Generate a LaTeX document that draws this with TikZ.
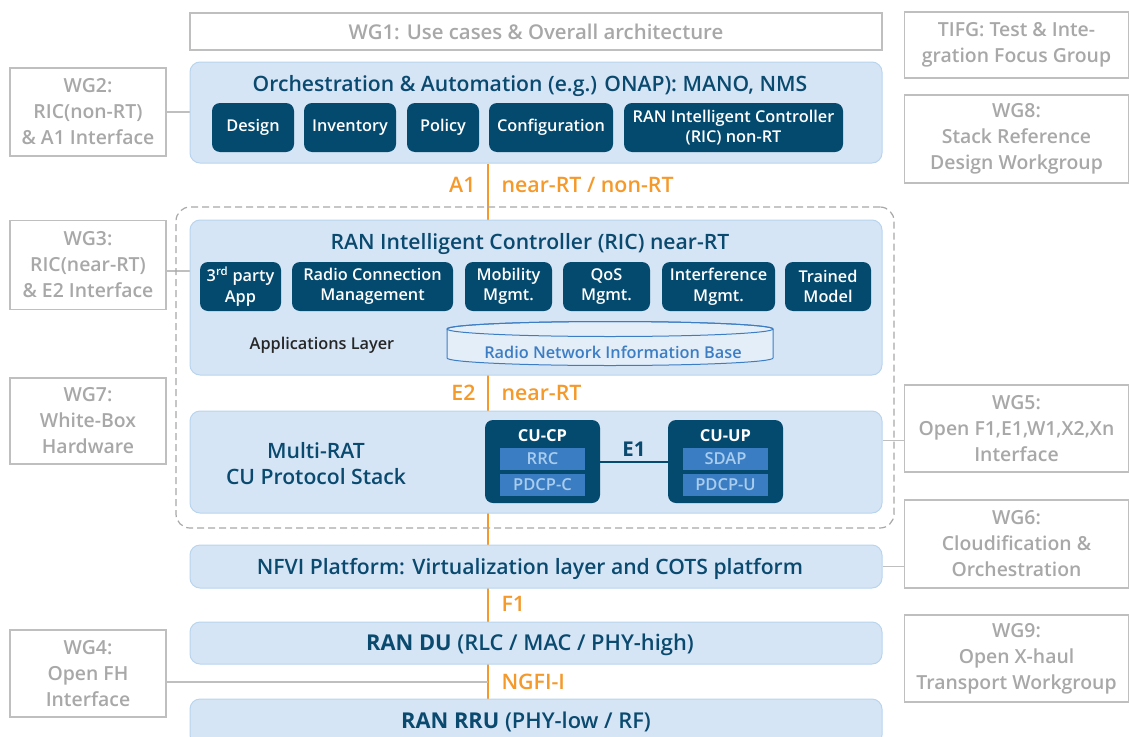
\documentclass[tikz,border=0pt]{standalone}
\usepackage{fontspec}
\IfFontExistsTF{Open Sans Semibold}{%
    \setmainfont{Open Sans Semibold}[BoldFont={Open Sans Bold}]\def\fsc{0.97}}{%
  \IfFontExistsTF{OpenSans-Semibold.otf}{%
    \setmainfont{OpenSans-Semibold.otf}[BoldFont={OpenSans-Bold.otf}]\def\fsc{0.97}}{%
    \IfFontExistsTF{OpenSans-SemiBold.ttf}{%
      \setmainfont{OpenSans-SemiBold.ttf}[BoldFont={OpenSans-Bold.ttf}]\def\fsc{0.97}}{%
      \setmainfont{Open Sans}\def\fsc{1}}}}
\usetikzlibrary{positioning,backgrounds}

\newcommand\fs[2]{\fontsize{\fsc\dimexpr #1pt\relax}{#2pt}\selectfont}

\definecolor{titlecol}{HTML}{0B4A6F}
\definecolor{darkbox}{HTML}{034A6E}
\definecolor{lightfill}{HTML}{D5E5F5}
\definecolor{lightline}{HTML}{B9D5EE}
\definecolor{wggray}{HTML}{A8A8A8}
\definecolor{wgline}{HTML}{BFBFBF}
\definecolor{ifcol}{HTML}{F5992B}
\definecolor{barfill}{HTML}{3B7DC2}
\definecolor{bartext}{HTML}{A9CDEE}
\definecolor{cylcol}{HTML}{3C7DC4}
\definecolor{cylfill}{HTML}{E3EEF9}

\tikzset{
    layer/.style={draw=lightline, fill=lightfill, line width=1, rounded corners=10, minimum width=692},
    wg/.style={draw=wgline, fill=white, line width=1.3, text=wggray, align=center, minimum width=156,
        font=\fs{20}{26}},
    app/.style={fill=darkbox, text=white, rounded corners=8, align=center, minimum height=49,
        font=\fs{16.8}{20.5}},
    bar/.style={fill=barfill, text=bartext, minimum width=85, minimum height=22, inner sep=0,
        font=\fs{17}{20}},
    title/.style={text=titlecol, align=center, font=\fs{21.8}{26}},
    iflabel/.style={text=ifcol, font=\fs{22}{26}},
    ifline/.style={draw=ifcol, line width=2.5},
    connector/.style={draw=wgline, line width=1.3},
}

\begin{document}
\begin{tikzpicture}[x=1pt, y=-1pt]
    \useasboundingbox (0,0) rectangle (1129,736);

    % working groups
    \node[wg, minimum width=692, minimum height=37, font=\fs{21}{25}] (wg1) at (536,31.5) {WG1: Use cases \& Overall architecture};
    \node[wg, minimum height=88] (wg2) at (88,112) {WG2:\\RIC(non-RT)\\\& A1 Interface};
    \node[wg, minimum height=89] (wg3) at (88,265) {WG3:\\RIC(near-RT)\\\& E2 Interface};
    \node[wg, minimum height=86] (wg7) at (88,421) {WG7:\\White-Box\\Hardware};
    \node[wg, minimum height=87] (wg4) at (88,673.5) {WG4:\\Open FH\\Interface};
    \node[wg, minimum width=224, minimum height=66] (tifg) at (1016.5,45) {TIFG: Test \& Inte-\\gration Focus Group};
    \node[wg, minimum width=224, minimum height=88] (wg8) at (1016.5,139) {WG8:\\Stack Reference\\Design Workgroup};
    \node[wg, minimum width=224, minimum height=87] (wg5) at (1016.5,428.5) {WG5:\\Open F1,E1,W1,X2,Xn\\Interface};
    \node[wg, minimum width=224, minimum height=88] (wg6) at (1016.5,544) {WG6:\\Cloudification \&\\Orchestration};
    \node[wg, minimum width=224, minimum height=87] (wg9) at (1016.5,658.5) {WG9:\\Open X-haul\\Transport Workgroup};

    % orchestration
    \node[layer, minimum height=101] (orch) at (536,112.5) {};
    \node[title] (orchtitle) at (530,86) {Orchestration \& Automation (e.g.) ONAP): MANO, NMS};
    \node[app, minimum width=82] (design) at (253,127.5) {Design};
    \node[app, minimum width=92] (inventory) at (350,127.5) {Inventory};
    \node[app, minimum width=72] (policy) at (443,127.5) {Policy};
    \node[app, minimum width=124] (config) at (551,127.5) {Configuration};
    \node[app, minimum width=219] (ricnonrt) at (733.5,127.5) {RAN Intelligent Controller\\(RIC) non-RT};

    % near-RT RIC and CU
    \node[draw=wggray, dash pattern=on 7pt off 4pt, line width=1.2, rounded corners=14,
        minimum width=718, minimum height=321] (nearrt) at (535,367.5) {};
    \node[layer, minimum height=155] (ric) at (536,297.5) {};
    \node[title] (rictitle) at (530,244) {RAN Intelligent Controller (RIC) near-RT};
    \node[app, minimum width=81] (thirdparty) at (240.5,286.5) {3\textsuperscript{rd} party\\App};
    \node[app, minimum width=161] (radioconn) at (372.5,286.5) {Radio Connection\\Management};
    \node[app, minimum width=87] (mobility) at (508.5,286.5) {Mobility\\Mgmt.};
    \node[app, minimum width=87] (qos) at (606.5,286.5) {QoS\\Mgmt.};
    \node[app, minimum width=113] (interf) at (718.5,286.5) {Interference\\Mgmt.};
    \node[app, minimum width=86] (trained) at (828,286.5) {Trained\\Model};
    \node[text=black!85, font=\fs{16.8}{20}] (applayer) at (322,345) {Applications Layer};
    \filldraw[draw=cylcol, fill=cylfill, line width=1] (447,329) -- (447,358)
        arc[start angle=180, end angle=0, x radius=163, y radius=7.5] -- (773,329)
        arc[start angle=0, end angle=-180, x radius=163, y radius=7.5] -- cycle;
    \draw[cylcol, line width=1] (610,329) ellipse[x radius=163, y radius=7.5];
    \node[text=cylcol, font=\fs{16.8}{20}] (rnib) at (613,352) {Radio Network Information Base};

    \node[layer, minimum height=102] (cu) at (536,462) {};
    \node[title] (multirat) at (316,464) {Multi-RAT\\CU Protocol Stack};
    \node[fill=darkbox, rounded corners=8, minimum width=115, minimum height=83] (cucp) at (542.5,461.5) {};
    \node[text=white, font=\fs{17}{20}\bfseries] (cucplabel) at (542.5,436) {CU-CP};
    \node[bar] (rrc) at (542.5,459) {RRC};
    \node[bar] (pdcpc) at (542.5,485) {PDCP-C};
    \node[fill=darkbox, rounded corners=8, minimum width=115, minimum height=83] (cuup) at (725.5,461.5) {};
    \node[text=white, font=\fs{17}{20}\bfseries] (cuuplabel) at (725.5,436) {CU-UP};
    \node[bar] (sdap) at (725.5,459) {SDAP};
    \node[bar] (pdcpu) at (725.5,485) {PDCP-U};
    \draw[darkbox, line width=2] (cucp.east) -- (cuup.west);
    \node[title, font=\fs{21}{25}\bfseries] (e1) at (634,449) {E1};

    % lower layers
    \node[layer, minimum height=43] (nfvi) at (536,566.5) {};
    \node[title] (nfvilabel) at (530,569) {NFVI Platform: Virtualization layer and COTS platform};
    \node[layer, minimum height=42] (du) at (536,643) {};
    \node[title, font=\fs{22.5}{26}] (dulabel) at (530,645) {\textbf{RAN DU} (RLC / MAC / PHY-high)};
    \node[layer, minimum height=46] (rru) at (536,722) {};
    \node[title, font=\fs{22.5}{26}] (rrulabel) at (526,722) {\textbf{RAN RRU} (PHY-low / RF)};

    % interfaces
    \node[iflabel, anchor=east] (a1) at (479,185) {A1};
    \node[iflabel, anchor=west] (a1type) at (498,185) {near-RT / non-RT};
    \node[iflabel, anchor=east] (e2) at (479,393) {E2};
    \node[iflabel, anchor=west] (e2type) at (498,393) {near-RT};
    \node[iflabel, anchor=west] (f1) at (498,604) {F1};
    \node[iflabel, anchor=west] (ngfilabel) at (498,682) {NGFI-I};
    \coordinate (bus) at (488,163);
    \coordinate (ngfi) at (488,682);

    \begin{scope}[on background layer]
        \draw[ifline] (orch.south -| bus) -- (rru.north -| bus);
        \draw[connector] (wg2.east) -- (wg2.east -| orch.west);
        \draw[connector] ([yshift=-6]wg3.east) -- ([yshift=-6]wg3.east -| ric.west);
        \draw[connector] ([yshift=-12]wg5.west) -- ([yshift=-12]wg5.west -| cu.east);
        \draw[connector] (nfvi.east) -- (nfvi.east -| wg6.west);
        \draw[connector] (wg4.east |- ngfi) -- (ngfi);
    \end{scope}
\end{tikzpicture}
\end{document}
